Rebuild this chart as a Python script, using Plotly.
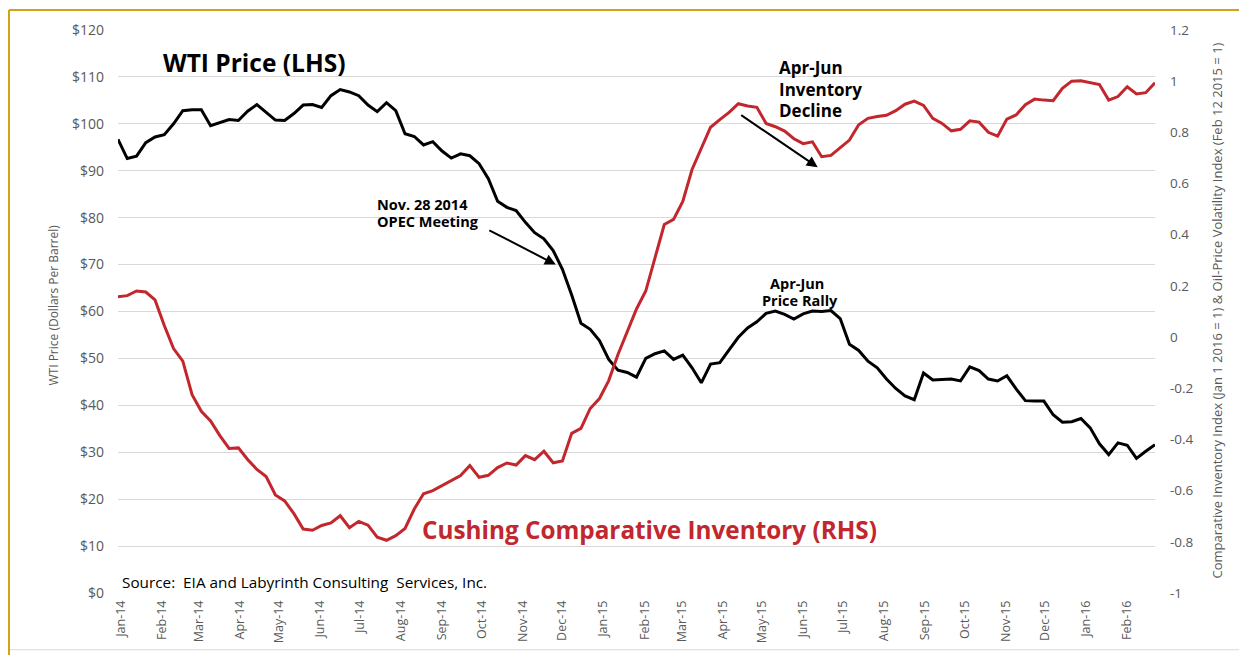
import pandas as pd
import plotly.graph_objects as go

# ---------------- data ----------------
start_date = "2013-12-30"          # weekly observations
wti_price = [
    96.7, 92.6, 93.1, 96.0, 97.2, 97.7, 100.0, 102.8, 103.0, 103.0,
    99.6, 100.3, 100.9, 100.7, 102.7, 104.1, 102.5, 100.8, 100.7, 102.2,
    104.0, 104.1, 103.5, 106.0, 107.3, 106.8, 106.0, 104.0, 102.6, 104.5,
    102.8, 97.9, 97.3, 95.5, 96.2, 94.2, 92.7, 93.6, 93.2, 91.5,
    88.3, 83.5, 82.2, 81.5, 79.0, 76.8, 75.5, 73.0, 69.0, 63.5,
    57.5, 56.2, 53.8, 49.8, 47.5, 47.0, 46.0, 50.0, 51.0, 51.6,
    49.8, 50.7, 48.0, 44.8, 48.8, 49.1, 51.8, 54.5, 56.5, 57.8,
    59.6, 60.1, 59.4, 58.4, 59.5, 60.1, 60.0, 60.2, 58.5, 53.0,
    51.7, 49.4, 48.0, 45.6, 43.6, 42.0, 41.2, 46.9, 45.4, 45.5,
    45.6, 45.2, 48.2, 47.4, 45.6, 45.2, 46.3, 43.5, 41.0, 40.9,
    40.9, 38.0, 36.4, 36.5, 37.2, 35.2, 31.8, 29.5, 32.0, 31.5,
    28.7, 30.2, 31.6,
]
cushing_inventory = [
    0.158, 0.162, 0.180, 0.176, 0.145, 0.045, -0.045, -0.094, -0.225, -0.290,
    -0.328, -0.385, -0.435, -0.433, -0.478, -0.517, -0.545, -0.617, -0.640, -0.690,
    -0.750, -0.755, -0.736, -0.726, -0.698, -0.745, -0.720, -0.735, -0.782, -0.794,
    -0.776, -0.748, -0.672, -0.612, -0.600, -0.580, -0.560, -0.541, -0.502, -0.548,
    -0.540, -0.510, -0.492, -0.500, -0.463, -0.479, -0.446, -0.491, -0.484, -0.376,
    -0.357, -0.279, -0.240, -0.170, -0.068, 0.020, 0.110, 0.180, 0.306, 0.440,
    0.460, 0.530, 0.655, 0.735, 0.820, 0.850, 0.878, 0.912, 0.903, 0.898,
    0.835, 0.822, 0.805, 0.775, 0.756, 0.763, 0.705, 0.710, 0.740, 0.770,
    0.830, 0.855, 0.862, 0.867, 0.885, 0.910, 0.922, 0.905, 0.855, 0.835,
    0.806, 0.812, 0.845, 0.840, 0.800, 0.785, 0.852, 0.868, 0.908, 0.930,
    0.926, 0.924, 0.972, 1.000, 1.002, 0.995, 0.987, 0.926, 0.940, 0.978,
    0.950, 0.955, 0.994,
]
month_labels = [
    "Jan-14", "Feb-14", "Mar-14", "Apr-14", "May-14", "Jun-14", "Jul-14",
    "Aug-14", "Sep-14", "Oct-14", "Nov-14", "Dec-14", "Jan-15", "Feb-15",
    "Mar-15", "Apr-15", "May-15", "Jun-15", "Jul-15", "Aug-15", "Sep-15",
    "Oct-15", "Nov-15", "Dec-15", "Jan-16", "Feb-16",
]
left_ticks = [0, 10, 20, 30, 40, 50, 60, 70, 80, 90, 100, 110, 120]
left_labels = ["$0", "$10", "$20", "$30", "$40", "$50", "$60", "$70",
               "$80", "$90", "$100", "$110", "$120"]
right_ticks = [-1.0, -0.8, -0.6, -0.4, -0.2, 0.0, 0.2, 0.4, 0.6, 0.8, 1.0, 1.2]
right_labels = ["-1", "-0.8", "-0.6", "-0.4", "-0.2", "0", "0.2", "0.4",
                "0.6", "0.8", "1", "1.2"]

dates = pd.date_range(start_date, periods=len(wti_price), freq="7D")
month_vals = pd.to_datetime(month_labels, format="%b-%y")

# ---------------- figure ----------------
FONT = "Open Sans"
GRAY = "#595959"
RED = "#C1272D"
OFF = 8                       # page body margin
PAGE_W, PAGE_H = 1247, 655
W, H = PAGE_W - OFF, PAGE_H - OFF
PL, PR, PT, PB = 118, 1155, 30, 596       # plot area in page pixels
L, T = PL - OFF, PT - OFF
R, B = W - (PR - OFF), H - (PB - OFF)


def px(xpage):
    return (xpage - PL) / (PR - PL)


def py(ypage):
    return (PB - ypage) / (PB - PT)


fig = go.Figure()
fig.add_trace(go.Scatter(x=dates, y=wti_price, mode="lines", name="WTI Price",
                         line=dict(color="#000000", width=3), yaxis="y"))
fig.add_trace(go.Scatter(x=dates, y=cushing_inventory, mode="lines",
                         name="Cushing Comparative Inventory",
                         line=dict(color=RED, width=3), yaxis="y2"))

fig.update_layout(
    width=W, height=H,
    margin=dict(l=L, r=R, t=T, b=B, pad=0),
    paper_bgcolor="white", plot_bgcolor="white",
    showlegend=False,
    font=dict(family=FONT, color=GRAY),
    xaxis=dict(
        range=[dates[0], dates[-1]],
        tickvals=month_vals, ticktext=month_labels,
        tickangle=-90, tickfont=dict(size=12.5, color=GRAY, family=FONT),
        showgrid=False, zeroline=False, showline=False, ticks="",
        ticklabelstandoff=4,
    ),
    yaxis=dict(
        range=[0, 120], tickvals=left_ticks, ticktext=left_labels,
        tickfont=dict(size=14, color=GRAY, family=FONT),
        showgrid=True, gridcolor="#D9D9D9", gridwidth=1,
        zeroline=False, showline=False, ticks="", ticklabelstandoff=13,
    ),
    yaxis2=dict(
        range=[-1, 1.2], tickvals=right_ticks, ticktext=right_labels,
        overlaying="y", side="right",
        tickfont=dict(size=13.5, color=GRAY, family=FONT),
        showgrid=False, zeroline=False, showline=False, ticks="",
        ticklabelstandoff=14,
    ),
)

# outer frame: gold top/left, light gray bottom
fig.add_shape(type="line", xref="paper", yref="paper",
              x0=px(9), x1=px(PAGE_W + 5), y0=py(10), y1=py(10),
              line=dict(color="#D4A21A", width=2))
fig.add_shape(type="line", xref="paper", yref="paper",
              x0=px(9), x1=px(9), y0=py(10), y1=py(PAGE_H + 5),
              line=dict(color="#D4A21A", width=2))
fig.add_shape(type="line", xref="paper", yref="paper",
              x0=px(10), x1=px(PAGE_W + 5), y0=py(653), y1=py(653),
              line=dict(color="#D9D9D9", width=1))


def note(text, xp, yp, size, color="#000000", anchor="center", angle=0):
    return dict(text=text, xref="paper", yref="paper", x=px(xp), y=py(yp),
                xanchor=anchor, yanchor="middle", textangle=angle,
                showarrow=False, font=dict(size=size, color=color, family=FONT))


ann = [
    note("WTI Price (Dollars Per Barrel)", 54, 307, 12, GRAY, angle=-90),
    note("Comparative Inventory Index (Jan 1 2016 = 1) & Oil-Price Volatility Index (Feb 12 2015 = 1)",
         1217, 312, 13, GRAY, angle=-90),
    note("<b>WTI Price (LHS)</b>", 254, 63, 24.5),
    note("<b>Cushing Comparative Inventory (RHS)</b>", 649, 532, 24.3, RED),
    note("Source:  EIA and Labyrinth Consulting  Services, Inc.", 120, 585, 15.3,
         anchor="left"),
    note("<b>Nov. 28 2014</b>", 375, 205, 14.5, anchor="left"),
    note("<b>OPEC Meeting</b>", 375, 223, 14.5, anchor="left"),
    note("<b>Apr-Jun</b>", 777, 68, 17, anchor="left"),
    note("<b>Inventory</b>", 777, 90, 17, anchor="left"),
    note("<b>Decline</b>", 777, 111, 17, anchor="left"),
    note("<b>Apr-Jun</b>", 797, 285, 14.5),
    note("<b>Price Rally</b>", 800, 302, 14.5),
    # arrows
    dict(text="", x="2014-11-26", y=70, xref="x", yref="y",
         ax=-68, ay=-35, showarrow=True, arrowhead=2, arrowsize=1.1,
         arrowwidth=2, arrowcolor="#000000"),
    dict(text="", x="2015-06-12", y=0.664, xref="x", yref="y2",
         ax=-78, ay=-53, showarrow=True, arrowhead=2, arrowsize=1.1,
         arrowwidth=2, arrowcolor="#000000"),
]
fig.update_layout(annotations=ann)

fig.write_html("out.html")
